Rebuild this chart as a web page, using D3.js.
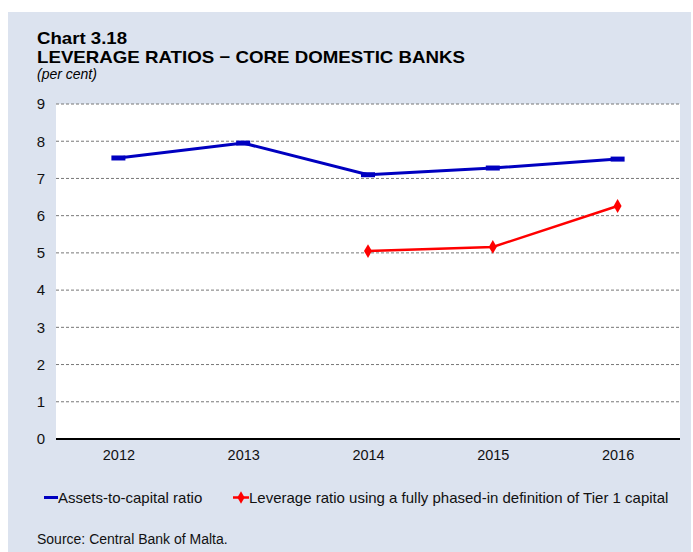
<!DOCTYPE html>
<html>
<head>
<meta charset="utf-8">
<script src="https://cdn.jsdelivr.net/npm/d3@7"></script>
<style>
  body { margin: 0; background: #fff; }
  svg { font-family: "Liberation Sans", Arial, sans-serif; }
</style>
</head>
<body>
<div id="chart"></div>
<script>
// chart values
const years = ["2012", "2013", "2014", "2015", "2016"];
const assets_to_capital = [7.55, 7.95, 7.1, 7.28, 7.52];
const leverage_ratio = [null, null, 5.05, 5.16, 6.26];
const y_ticks = [0, 1, 2, 3, 4, 5, 6, 7, 8, 9];

const width = 693;
const height = 552;
const plot = { left: 56, right: 680, top: 104, bottom: 439 };

const svg = d3.select("#chart")
  .append("svg")
  .attr("width", width)
  .attr("height", height);

// panel background
svg.append("rect")
  .attr("x", 8).attr("y", 12)
  .attr("width", 683).attr("height", 540)
  .attr("fill", "#dce3ef");

// plot area
svg.append("rect")
  .attr("x", plot.left).attr("y", plot.top)
  .attr("width", plot.right - plot.left)
  .attr("height", plot.bottom - plot.top)
  .attr("fill", "#fff");

// titles
svg.append("text").attr("x", 37).attr("y", 44)
  .attr("font-size", "17px").attr("font-weight", "bold")
  .attr("textLength", 90).attr("lengthAdjust", "spacingAndGlyphs")
  .text("Chart 3.18");
svg.append("text").attr("x", 37).attr("y", 63)
  .attr("font-size", "17px").attr("font-weight", "bold")
  .attr("textLength", 428).attr("lengthAdjust", "spacingAndGlyphs")
  .text("LEVERAGE RATIOS \u2212 CORE DOMESTIC BANKS");
svg.append("text").attr("x", 37).attr("y", 79)
  .attr("font-size", "14px").attr("font-style", "italic")
  .text("(per cent)");

// scales
const x = d3.scalePoint()
  .domain(years)
  .range([plot.left, plot.right])
  .padding(0.5);

const y = d3.scaleLinear()
  .domain([0, 9])
  .range([plot.bottom, plot.top]);

// gridlines (dashed)
svg.append("g")
  .selectAll("line")
  .data(y_ticks.filter(d => d > 0))
  .enter()
  .append("line")
  .attr("x1", plot.left).attr("x2", plot.right)
  .attr("y1", d => y(d)).attr("y2", d => y(d))
  .attr("stroke", "#777")
  .attr("stroke-width", 1)
  .attr("stroke-dasharray", "3,2");

// y axis labels
const y_axis = svg.append("g")
  .attr("transform", `translate(${plot.left},0)`)
  .call(d3.axisLeft(y).tickValues(y_ticks).tickSize(0).tickPadding(11));
y_axis.select(".domain").remove();
y_axis.selectAll("text")
  .attr("font-size", "15px")
  .attr("font-family", "Liberation Sans, Arial, sans-serif")
  .attr("fill", "#111");

// x axis
const x_axis = svg.append("g")
  .attr("transform", `translate(0,${plot.bottom})`)
  .call(d3.axisBottom(x).tickSize(0).tickPadding(11));
x_axis.select(".domain")
  .attr("d", `M${plot.left},0H${plot.right}`)
  .attr("stroke", "#000")
  .attr("stroke-width", 2);
x_axis.selectAll("text")
  .attr("font-size", "14.5px")
  .attr("font-family", "Liberation Sans, Arial, sans-serif")
  .attr("fill", "#111");

// lines
const line = d3.line()
  .defined(d => d.v != null)
  .x(d => x(d.year))
  .y(d => y(d.v));

const blue_data = years.map((yr, i) => ({ year: yr, v: assets_to_capital[i] }));
const red_data = years.map((yr, i) => ({ year: yr, v: leverage_ratio[i] }));

svg.append("path")
  .datum(blue_data)
  .attr("d", line)
  .attr("fill", "none")
  .attr("stroke", "#0000c0")
  .attr("stroke-width", 3);

svg.selectAll(".blue-marker")
  .data(blue_data)
  .enter()
  .append("rect")
  .attr("class", "blue-marker")
  .attr("x", d => x(d.year) - 7)
  .attr("y", d => y(d.v) - 2.5)
  .attr("width", 14)
  .attr("height", 5)
  .attr("fill", "#0000c0");

svg.append("path")
  .datum(red_data)
  .attr("d", line)
  .attr("fill", "none")
  .attr("stroke", "#ff0000")
  .attr("stroke-width", 2.5);

svg.selectAll(".red-marker")
  .data(red_data.filter(d => d.v != null))
  .enter()
  .append("path")
  .attr("class", "red-marker")
  .attr("d", d3.symbol().type(d3.symbolDiamond).size(55))
  .attr("transform", d => `translate(${x(d.year)},${y(d.v)})`)
  .attr("fill", "#ff0000");

// legend
const legend = svg.append("g").attr("font-size", "15px").attr("fill", "#111");
legend.append("line")
  .attr("x1", 44).attr("x2", 58).attr("y1", 497.5).attr("y2", 497.5)
  .attr("stroke", "#0000c0").attr("stroke-width", 3);
legend.append("text").attr("x", 58).attr("y", 503)
  .text("Assets-to-capital ratio");
legend.append("line")
  .attr("x1", 233).attr("x2", 249).attr("y1", 497.5).attr("y2", 497.5)
  .attr("stroke", "#ff0000").attr("stroke-width", 2.5);
legend.append("path")
  .attr("d", d3.symbol().type(d3.symbolDiamond).size(45))
  .attr("transform", "translate(241,497.5)")
  .attr("fill", "#ff0000");
legend.append("text").attr("x", 249).attr("y", 503)
  .text("Leverage ratio using a fully phased-in definition of Tier 1 capital");

// source
svg.append("text").attr("x", 37).attr("y", 544)
  .attr("font-size", "14px").attr("fill", "#111")
  .text("Source: Central Bank of Malta.");
</script>
</body>
</html>
